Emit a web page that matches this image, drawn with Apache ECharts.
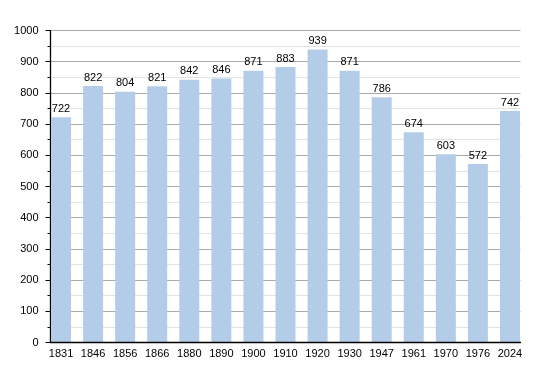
<!DOCTYPE html>
<html>
<head>
<meta charset="utf-8">
<script src="https://cdn.jsdelivr.net/npm/echarts@6/dist/echarts.min.js"></script>
<style>html,body{margin:0;padding:0;background:#fff}#c{width:550px;height:373px}</style>
</head>
<body>
<div id="c"></div>
<script>
const years = ['1831','1846','1856','1866','1880','1890','1900','1910','1920','1930','1947','1961','1970','1976','2024'];
const population = [722, 822, 804, 821, 842, 846, 871, 883, 939, 871, 786, 674, 603, 572, 742];
const yTicks = [0, 100, 200, 300, 400, 500, 600, 700, 800, 900, 1000];

const chart = echarts.init(document.getElementById('c'), null, {renderer: 'canvas'});
const font = 'Liberation Sans, Arial, sans-serif';
chart.setOption({
  animation: false,
  grid: [
    {left: 50.5, right: 29.5, top: 30.5, bottom: 30.5, containLabel: false},
    {left: 45, right: 24, top: 30.5, bottom: 30.5, containLabel: false}
  ],
  xAxis: [
    {gridIndex: 0, type: 'category', data: years, boundaryGap: true, z: 20,
     axisLine: {show: true, lineStyle: {color: '#000', width: 1.3}},
     axisTick: {show: false}, axisLabel: {show: false}, splitLine: {show: false}},
    {gridIndex: 1, type: 'category', data: years, boundaryGap: true,
     axisLine: {show: false}, axisTick: {show: false},
     axisLabel: {color: '#000', fontFamily: font, fontSize: 11, margin: 6}}
  ],
  yAxis: [
    {gridIndex: 0, type: 'value', min: 0, max: 1000, interval: 100, z: 0,
     axisLine: {show: true, lineStyle: {color: '#000', width: 1.3}},
     axisTick: {show: true, inside: false, length: 5, lineStyle: {color: '#000'}},
     minorTick: {show: true, splitNumber: 2, length: 3, lineStyle: {color: '#000'}},
     axisLabel: {color: '#000', fontFamily: font, fontSize: 11, margin: 12,
       formatter: v => yTicks.includes(v) ? String(v) : ''},
     splitLine: {show: true, lineStyle: {color: '#aaaaaa', width: 1}},
     minorSplitLine: {show: true, lineStyle: {color: '#e2e2e2', width: 1}}},
    {gridIndex: 1, type: 'value', min: 0, max: 1000, interval: 100, show: false,
     splitLine: {show: false}}
  ],
  series: [{
    type: 'bar', xAxisIndex: 1, yAxisIndex: 1, data: population, z: 10,
    barWidth: 20,
    itemStyle: {color: '#b3cde8'},
    label: {show: true, position: 'top', distance: 3, color: '#000', fontFamily: font, fontSize: 11}
  }]
});
</script>
</body>
</html>
